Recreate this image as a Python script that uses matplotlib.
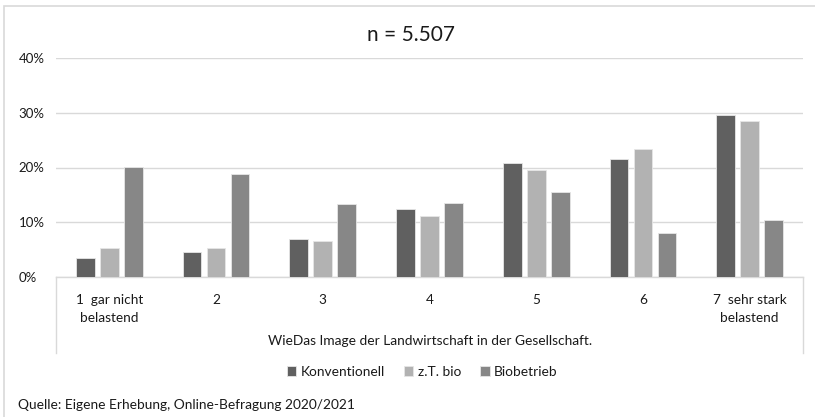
import matplotlib
matplotlib.use("Agg")
import matplotlib.pyplot as plt
from matplotlib.lines import Line2D
from matplotlib.patches import Rectangle
import numpy as np

plt.rcParams['font.family'] = ['Lato', 'DejaVu Sans']

# data (shares, 0..1)
categories = ["1  gar nicht\nbelastend", "2", "3", "4", "5", "6", "7  sehr stark\nbelastend"]
konventionell = [0.035, 0.046, 0.069, 0.124, 0.209, 0.215, 0.296]
zt_bio = [0.053, 0.053, 0.065, 0.112, 0.195, 0.233, 0.285]
biobetrieb = [0.201, 0.188, 0.133, 0.136, 0.155, 0.080, 0.104]
series_names = ["Konventionell", "z.T. bio", "Biobetrieb"]
y_ticks = [0.0, 0.1, 0.2, 0.3, 0.4]

colors = ["#606060", "#b2b2b2", "#878787"]
grid_col = "#d9d9d9"
text_col = "#1a1a1a"

W, H = 815, 417
fig = plt.figure(figsize=(W / 100, H / 100), dpi=100)

# plot area in pixel coords of the reference
x0, x1 = 56, 803
y_zero, y_top = 277, 58
ax = fig.add_axes([x0 / W, 1 - y_zero / H, (x1 - x0) / W, (y_zero - y_top) / H])

x = np.arange(len(categories))
width = 0.175
offs = [-0.225, 0.0, 0.225]
for vals, off, col, name in zip([konventionell, zt_bio, biobetrieb], offs, colors, series_names):
    ax.bar(x + off, vals, width, color=col, edgecolor="#e6e6e6", linewidth=0.6,
           label=name, zorder=3)

ax.set_xlim(-0.5, len(categories) - 0.5)
ax.set_ylim(0, 0.4)
ax.set_yticks(y_ticks)
ax.set_yticklabels([f"{int(round(t * 100))}%" for t in y_ticks], fontsize=9.5, color=text_col)
ax.tick_params(axis='y', length=0, pad=27)
for lab in ax.get_yticklabels():
    lab.set_horizontalalignment('left')
ax.set_xticks(x)
ax.set_xticklabels(categories, fontsize=9.8, color=text_col, linespacing=1.65)
ax.tick_params(axis='x', length=0, pad=12)
ax.grid(axis='y', color=grid_col, linewidth=1, zorder=0)
for s in ["top", "right", "left"]:
    ax.spines[s].set_visible(False)
ax.spines["bottom"].set_color(grid_col)
ax.spines["bottom"].set_linewidth(1)

# category axis frame lines below the plot
for xp in (x0, x1):
    fig.add_artist(Line2D([xp / W, xp / W], [1 - y_zero / H, 1 - 353 / H],
                          color=grid_col, linewidth=1))

# outer chart border
fig.add_artist(Rectangle((4 / W, -0.1), 1.2, 1 - 6 / H + 0.1, transform=fig.transFigure,
                         fill=False, edgecolor=grid_col, linewidth=1.2))

fig.text(411 / W, 1 - 35 / H, "n = 5.507", ha='center', va='center', fontsize=15, color=text_col)
fig.text(430 / W, 1 - 341 / H, "WieDas Image der Landwirtschaft in der Gesellschaft.",
         ha='center', va='center', fontsize=9.9, color=text_col)
fig.legend(loc='center', bbox_to_anchor=(422 / W, 1 - 372 / H), ncol=3, frameon=False,
           fontsize=9.9, handlelength=0.7, handleheight=0.7, handletextpad=0.3,
           columnspacing=1.4, labelcolor=text_col)
fig.text(18 / W, 1 - 405 / H, "Quelle: Eigene Erhebung, Online-Befragung 2020/2021",
         ha='left', va='center', fontsize=9.9, color=text_col)

fig.savefig("out.png", dpi=100, facecolor="white")
